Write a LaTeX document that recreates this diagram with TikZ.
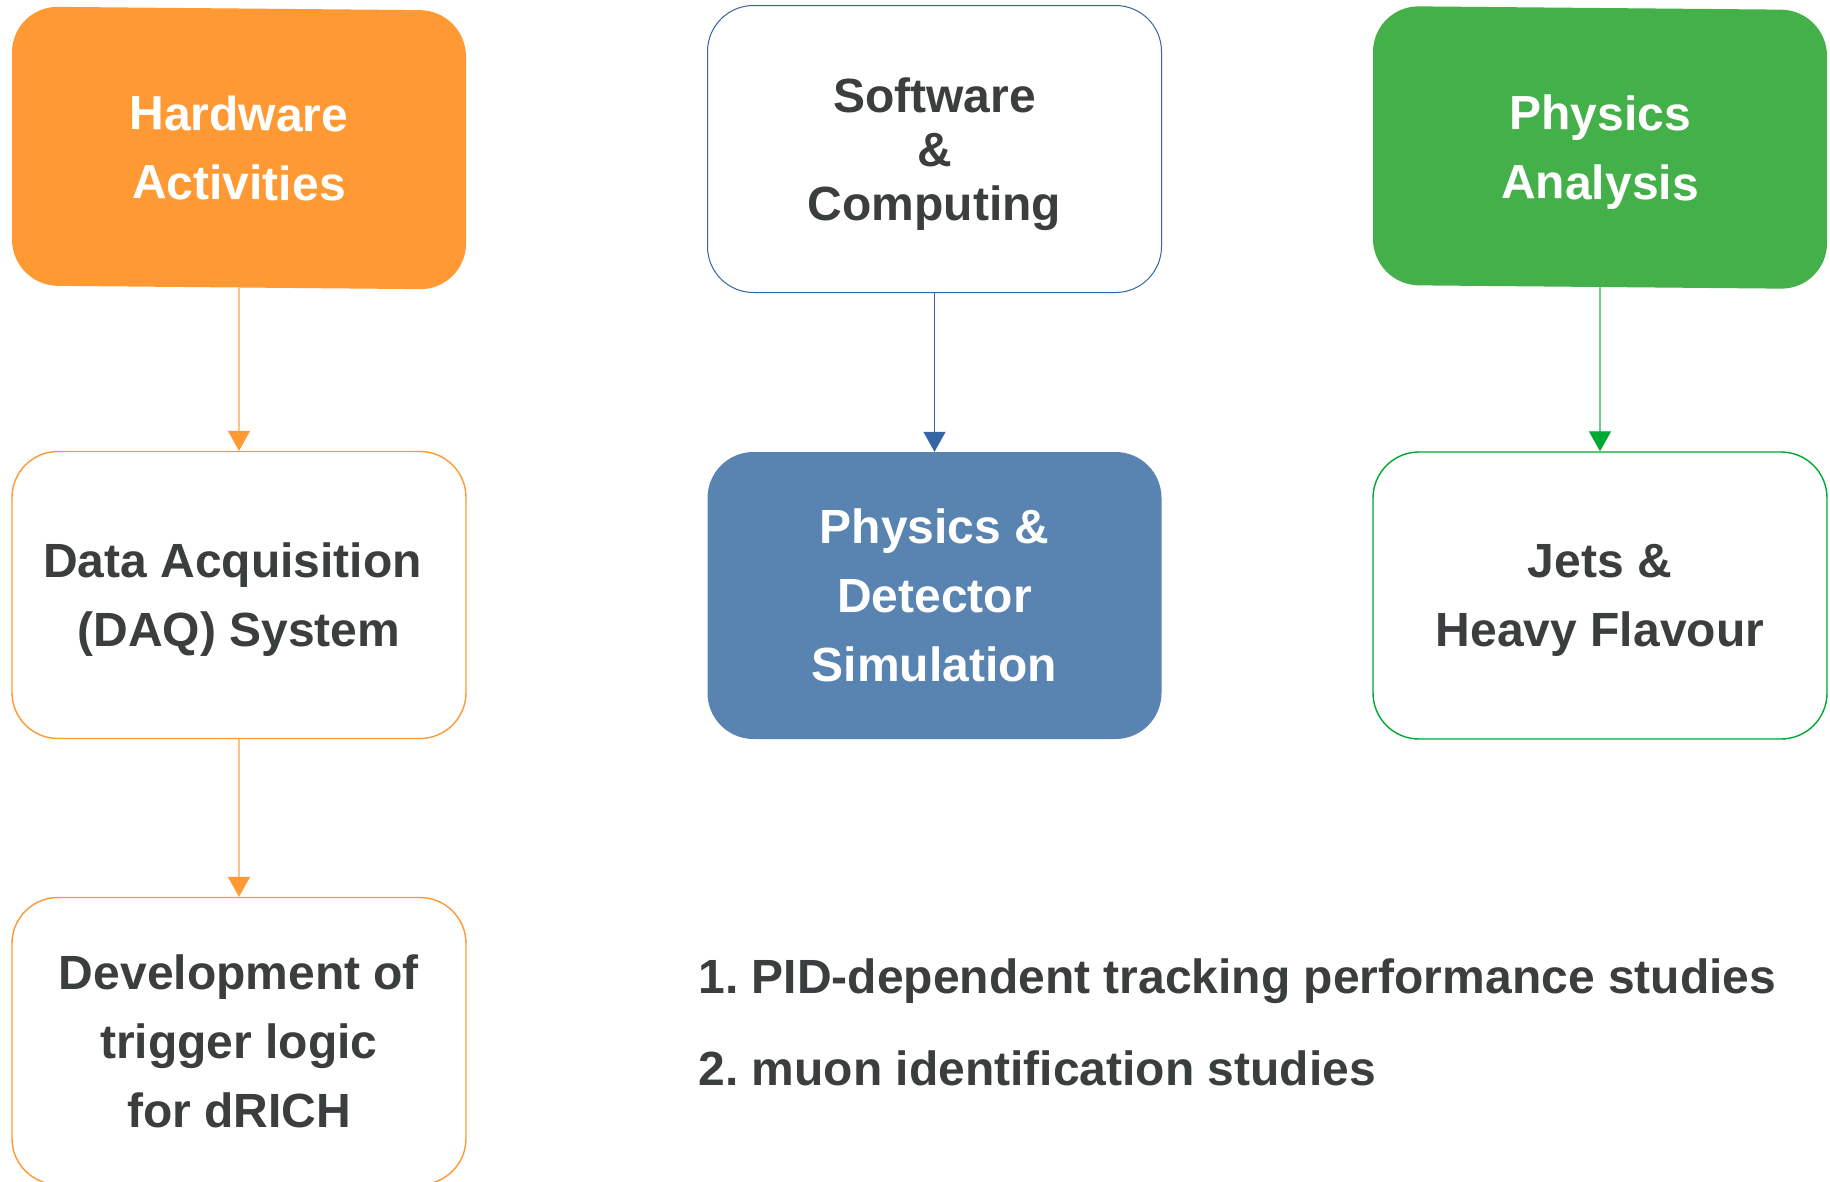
\documentclass[tikz,border=0pt]{standalone}
\usepackage{fontspec}
\setmainfont{Liberation Sans}
\usetikzlibrary{arrows.meta,positioning}
\definecolor{wgOrange}{HTML}{FF9933}
\definecolor{wgOrangeSoft}{HTML}{FFC285}
\definecolor{wgBlue}{HTML}{3465A4}
\definecolor{wgBlueFill}{HTML}{5983B0}
\definecolor{wgGreen}{HTML}{43B049}
\definecolor{wgGreenDark}{HTML}{00A933}
\definecolor{wgGreenSoft}{HTML}{70CC88}
\definecolor{wgInk}{HTML}{3A3E3E}

\begin{document}
\begin{tikzpicture}[x=1pt,y=-1pt,>=Latex,line cap=round,line join=round]
\useasboundingbox[fill=white] (0,0) rectangle (1830,1181);
\tikzset{card/.style={rounded corners=46pt,minimum width=454pt,minimum height=287pt,inner sep=0pt,text depth=0pt,align=center,font=\bfseries\fontsize{48}{69}\selectfont,text=wgInk},
 filled/.style={card,fill=#1,draw=none,text=white},
 framed/.style={card,draw=#1,fill=white,line width=1.4pt},
 link/.style={draw=#1,line width=1.3pt},
 headed/.style={-{Triangle[width=22pt,length=20pt,color=#1]}}}
% top row: the three working groups
\node[filled=wgOrange,minimum height=279pt,yslant=-0.009] (hw) at (239,148) {Hardware\\Activities};
\node[framed=wgBlue,line width=1pt,font=\bfseries\fontsize{48}{54}\selectfont] (sw) at (934.5,149) {Software\\\&\hspace*{13pt}\\Computing};
\node[filled=wgGreen,minimum height=279pt,yslant=-0.009] (pa) at (1600,147.5) {Physics\\Analysis};
% tasks
\node[framed=wgOrange] (daq) at (239,595) {Data Acquisition\hspace*{13pt}\\(DAQ) System};
\node[filled=wgBlueFill] (sim) at (934.5,595.5) {Physics \&\\Detector\\Simulation};
\node[framed=wgGreenDark] (jets) at (1600,595.5) {Jets \&\\Heavy Flavour};
\node[framed=wgOrange] (trig) at (239,1041) {Development of\\trigger logic\\for dRICH};
\draw[link=wgOrangeSoft,headed=wgOrange] (hw.south) -- (daq.north);
\draw[link=wgOrangeSoft,headed=wgOrange] (daq.south) -- (trig.north);
\draw[link=wgBlue,headed=wgBlue] (sw.south) -- (sim.north);
\draw[link=wgGreenSoft,headed=wgGreenDark] (pa.south) -- (jets.north);
% studies
\node[anchor=base west,text=wgInk,font=\bfseries\fontsize{48}{69}\selectfont] (study1) at (695,993) {1.\ PID-dependent tracking performance studies};
\node[anchor=base west,text=wgInk,font=\bfseries\fontsize{48}{69}\selectfont] (study2) at (695,1085) {2.\ muon identification studies};
\end{tikzpicture}
\end{document}
